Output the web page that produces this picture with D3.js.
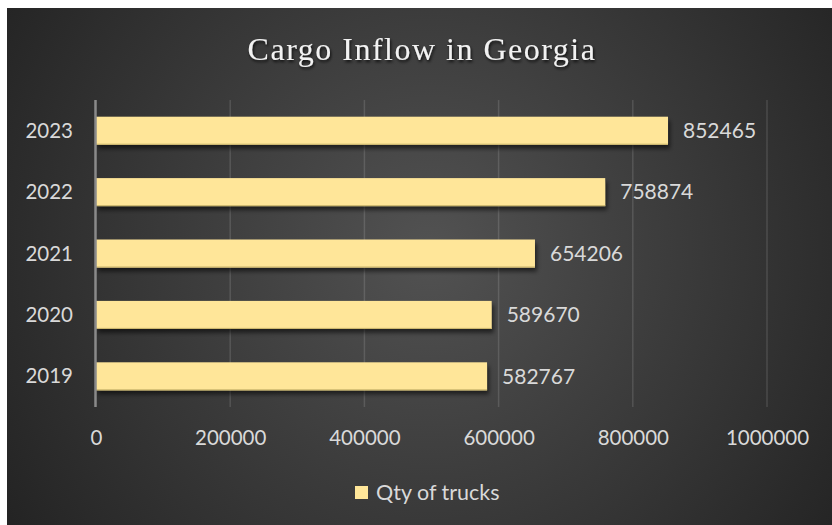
<!DOCTYPE html>
<html>
<head>
<meta charset="utf-8">
<script src="https://cdn.jsdelivr.net/npm/d3@7"></script>
<style>
  html, body { margin: 0; padding: 0; background: #ffffff; }
  svg { display: block; }
</style>
</head>
<body>
<svg id="chart" width="832" height="525"></svg>
<script>
// Chart data
const years = ["2019", "2020", "2021", "2022", "2023"];
const trucks = [582767, 589670, 654206, 758874, 852465];
const xTicks = [0, 200000, 400000, 600000, 800000, 1000000];
const title = "Cargo Inflow in Georgia";
const seriesName = "Qty of trucks";

const svg = d3.select("#chart");
const W = 832, H = 525;
const panel = { x: 7, y: 8, w: W - 7, h: H - 8 };
const plot = { left: 96, right: 767, top: 100, bottom: 407 };

const defs = svg.append("defs");
const bg = defs.append("radialGradient")
  .attr("id", "bgGrad")
  .attr("gradientUnits", "userSpaceOnUse")
  .attr("cx", 430).attr("cy", 250).attr("r", 520);
bg.append("stop").attr("offset", "0%").attr("stop-color", "#525252");
bg.append("stop").attr("offset", "100%").attr("stop-color", "#222222");

const shadow = defs.append("filter").attr("id", "barShadow")
  .attr("x", "-5%").attr("y", "-30%").attr("width", "115%").attr("height", "170%");
shadow.append("feDropShadow")
  .attr("dx", 2).attr("dy", 4).attr("stdDeviation", 2)
  .attr("flood-color", "#000").attr("flood-opacity", 0.55);

const titleShadow = defs.append("filter").attr("id", "titleShadow")
  .attr("x", "-10%").attr("y", "-30%").attr("width", "120%").attr("height", "170%");
titleShadow.append("feDropShadow")
  .attr("dx", 1).attr("dy", 2).attr("stdDeviation", 1.5)
  .attr("flood-color", "#000").attr("flood-opacity", 0.8);

// Background panel
svg.append("rect")
  .attr("x", panel.x).attr("y", panel.y)
  .attr("width", panel.w).attr("height", panel.h)
  .attr("fill", "url(#bgGrad)");

// Scales
const x = d3.scaleLinear().domain([0, 1000000]).range([plot.left, plot.right]);
const yOrder = years.slice().reverse();
const y = d3.scaleBand().domain(yOrder)
  .range([plot.top, plot.bottom])
  .paddingInner(0.544).paddingOuter(0.272);

// Vertical gridlines
svg.append("g")
  .selectAll("line")
  .data(xTicks.filter(d => d > 0))
  .join("line")
  .attr("x1", d => x(d)).attr("x2", d => x(d))
  .attr("y1", plot.top).attr("y2", plot.bottom)
  .attr("stroke", "#ffffff").attr("stroke-opacity", 0.13)
  .attr("stroke-width", 1.5);

// Bars
const data = years.map((yr, i) => ({ year: yr, value: trucks[i] }));
const bars = svg.append("g");
bars.selectAll("rect.bar")
  .data(data)
  .join("rect")
  .attr("class", "bar")
  .attr("x", x(0))
  .attr("y", d => y(d.year))
  .attr("width", d => x(d.value) - x(0))
  .attr("height", y.bandwidth())
  .attr("fill", "#ffe699")
  .attr("filter", "url(#barShadow)");
bars.selectAll("line.edge")
  .data(data)
  .join("line")
  .attr("class", "edge")
  .attr("x1", x(0)).attr("x2", d => x(d.value))
  .attr("y1", d => y(d.year) + y.bandwidth() - 0.5)
  .attr("y2", d => y(d.year) + y.bandwidth() - 0.5)
  .attr("stroke", "#c9b46c").attr("stroke-width", 1);

// Category axis line
svg.append("line")
  .attr("x1", x(0) - 0.5).attr("x2", x(0) - 0.5)
  .attr("y1", plot.top).attr("y2", plot.bottom)
  .attr("stroke", "#8a8a8a").attr("stroke-width", 2.5);

const labelFont = "Lato, 'Open Sans', sans-serif";
const textColor = "#d9d9d9";

// Category labels
svg.append("g")
  .selectAll("text")
  .data(yOrder)
  .join("text")
  .attr("x", 73)
  .attr("y", d => y(d) + y.bandwidth() / 2)
  .attr("dy", "0.35em")
  .attr("text-anchor", "end")
  .attr("font-family", labelFont)
  .attr("font-size", 20.5)
  .attr("fill", textColor)
  .text(d => d);

// Value labels
svg.append("g")
  .selectAll("text")
  .data(data)
  .join("text")
  .attr("x", d => x(d.value) + 15)
  .attr("y", d => y(d.year) + y.bandwidth() / 2)
  .attr("dy", "0.35em")
  .attr("font-family", labelFont)
  .attr("font-size", 21)
  .attr("fill", textColor)
  .text(d => d.value);

// Value axis tick labels
const xAxis = d3.axisBottom(x).tickValues(xTicks).tickSize(0).tickPadding(0)
  .tickFormat(d3.format("d"));
const gx = svg.append("g")
  .attr("transform", `translate(0,${plot.bottom})`)
  .call(xAxis);
gx.select(".domain").remove();
gx.selectAll("text")
  .attr("y", 38)
  .attr("dy", 0)
  .attr("font-family", labelFont)
  .attr("font-size", 20.5)
  .attr("fill", textColor);

// Title
svg.append("text")
  .attr("x", 422).attr("y", 60)
  .attr("text-anchor", "middle")
  .attr("font-family", "'Liberation Serif', serif")
  .attr("font-size", 32)
  .attr("letter-spacing", 1.5)
  .attr("fill", "#f2f2f2")
  .attr("filter", "url(#titleShadow)")
  .text(title);

// Legend
const legend = svg.append("g").attr("transform", "translate(355,486)");
legend.append("rect")
  .attr("width", 13).attr("height", 13)
  .attr("fill", "#ffe699");
legend.append("text")
  .attr("x", 21).attr("y", 6.5).attr("dy", "0.35em")
  .attr("font-family", labelFont)
  .attr("font-size", 21.5)
  .attr("fill", textColor)
  .text(seriesName);
</script>
</body>
</html>
